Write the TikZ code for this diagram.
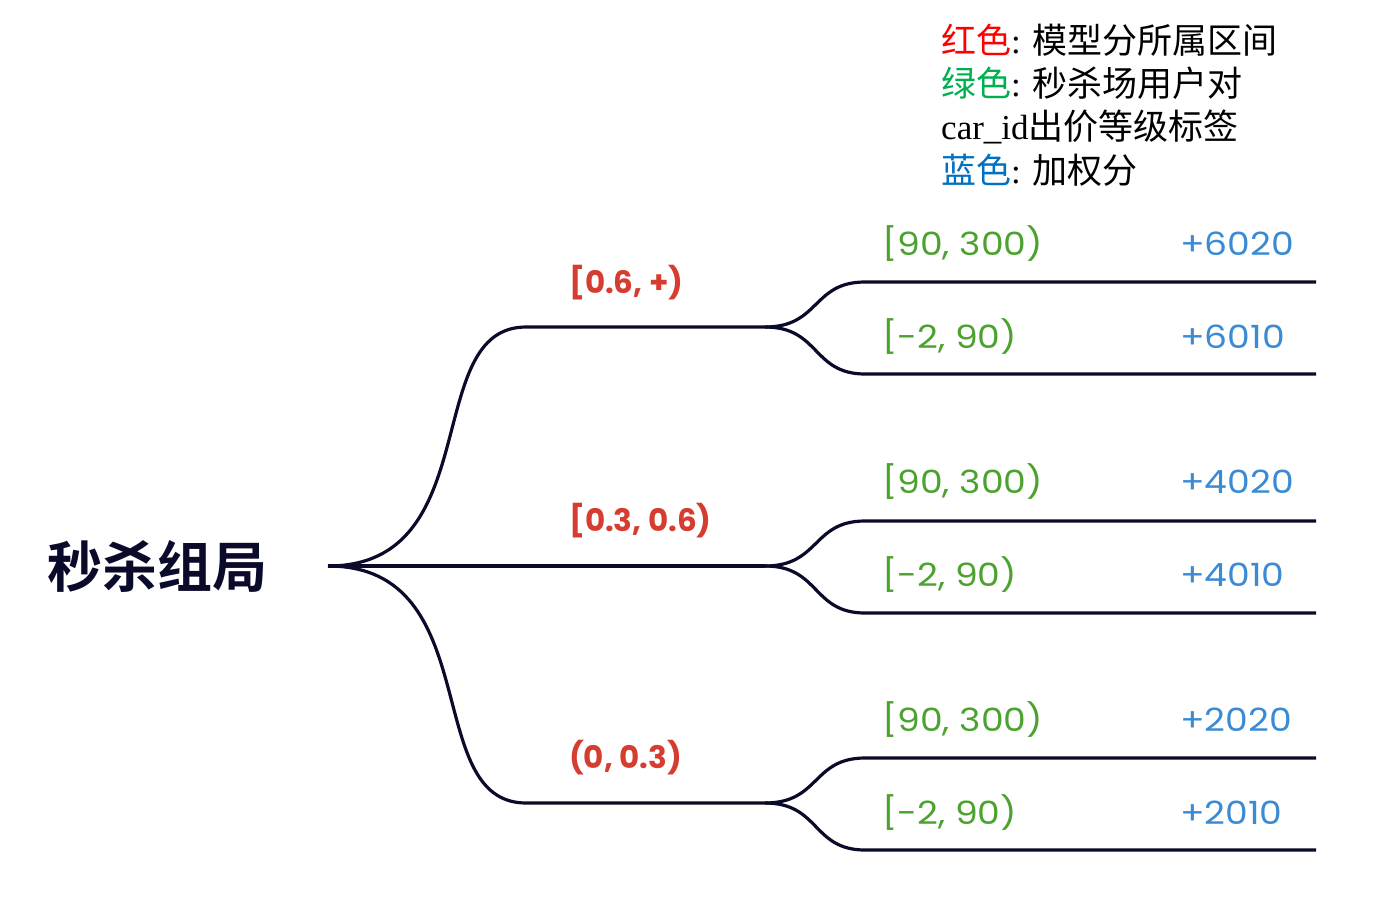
\documentclass[tikz,border=0pt]{standalone}
\usepackage{fontspec}
\setmainfont{Liberation Serif}
\newfontfamily\cjk{Noto Sans CJK SC}
\newfontfamily\cjkbold{Noto Sans CJK SC Bold}
\newfontfamily\lbl[FakeStretch=1.13]{Poppins}
\newfontfamily\lblb{Poppins}
\definecolor{navy}{HTML}{0A0A2A}
\definecolor{lred}{HTML}{D43D2F}
\definecolor{lgreen}{HTML}{4CA22E}
\definecolor{lblue}{HTML}{3A8AD4}
\definecolor{kred}{HTML}{FF0000}
\definecolor{kgreen}{HTML}{00B050}
\definecolor{kblue}{HTML}{0070C0}
\tikzset{
  branch/.style={draw=navy, line width=3.2pt},
  rlab/.style={anchor=west, inner sep=0pt, text=lred, font=\lblb\bfseries\fontsize{31}{36}\selectfont},
  glab/.style={anchor=west, inner sep=0pt, text=lgreen, font=\lbl\fontsize{32}{37}\selectfont},
  blab/.style={anchor=west, inner sep=0pt, text=lblue, font=\lbl\fontsize{32}{37}\selectfont},
  legline/.style={anchor=west, inner sep=0pt, font=\fontsize{35}{40}\selectfont},
}
\begin{document}
\begin{tikzpicture}[x=1pt,y=-1pt]
\useasboundingbox (0,0) rectangle (1392,908);
% root
\node[anchor=west, inner sep=0pt, text=navy, font=\cjkbold\fontsize{55}{60}\selectfont] (root) at (47,566) {秒杀组局};
\coordinate (r) at (328,566);
% level 1
\foreach \n/\y in {a/327,b/566,c/803}{
  \coordinate (\n1) at (526,\y);
  \coordinate (\n2) at (765,\y);
  \draw[branch] (r) .. controls (488,566) and (420,\y) .. (\n1) -- (\n2);
  \pgfmathsetmacro{\yu}{\y-45}
  \pgfmathsetmacro{\yd}{\y+47}
  \coordinate (\n u1) at (865,\yu);
  \coordinate (\n d1) at (865,\yd);
  \coordinate (\n u2) at (1316,\yu);
  \coordinate (\n d2) at (1316,\yd);
  \draw[branch] (\n2) .. controls (820,\y) and (812,\yu) .. (\n u1) -- (\n u2);
  \draw[branch] (\n2) .. controls (820,\y) and (812,\yd) .. (\n d1) -- (\n d2);
}
% red labels
\node[rlab] (ra) at (569,283) {[0.6, +)};
\node[rlab] (rb) at (569,521) {[0.3, 0.6)};
\node[rlab] (rc) at (569,758) {(0, 0.3)};
% green labels
\node[glab] (g1) at (882,244) {[90, 300)};
\node[glab] (g2) at (882,337) {[-2, 90)};
\node[glab] (g3) at (882,482) {[90, 300)};
\node[glab] (g4) at (882,575) {[-2, 90)};
\node[glab] (g5) at (882,720) {[90, 300)};
\node[glab] (g6) at (882,813) {[-2, 90)};
% blue labels
\node[blab] (b1) at (1180,244) {+6020};
\node[blab] (b2) at (1180,337) {+6010};
\node[blab] (b3) at (1180,482) {+4020};
\node[blab] (b4) at (1180,575) {+4010};
\node[blab] (b5) at (1180,720) {+2020};
\node[blab] (b6) at (1180,813) {+2010};
% legend
\node[legline] (l1) at (941,40) {{\cjk\color{kred}红色}: {\cjk 模型分所属区间}};
\node[legline] (l2) at (941,83) {{\cjk\color{kgreen}绿色}: {\cjk 秒杀场用户对}};
\node[legline] (l3) at (941,127) {car\_id{\cjk 出价等级标签}};
\node[legline] (l4) at (941,170) {{\cjk\color{kblue}蓝色}: {\cjk 加权分}};
\end{tikzpicture}
\end{document}
